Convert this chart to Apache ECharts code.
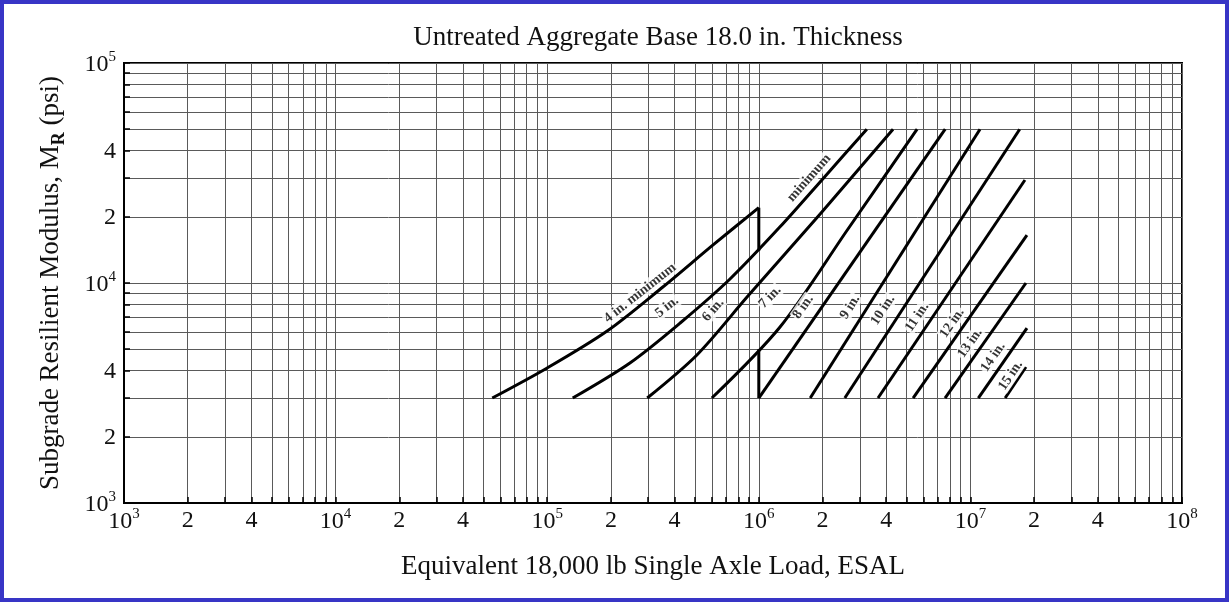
<!DOCTYPE html>
<html>
<head>
<meta charset="utf-8">
<script src="https://cdn.jsdelivr.net/npm/echarts@6/dist/echarts.min.js"></script>
<style>
  html, body { margin: 0; padding: 0; background: #fff; }
  #chart { width: 1229px; height: 602px; }
  #frame { position: absolute; left: 0; top: 0; width: 1229px; height: 602px;
           box-sizing: border-box; border: 4px solid #3835c6; pointer-events: none; }
</style>
</head>
<body>
<div id="chart"></div>
<div id="frame"></div>
<script>
// Axis label positions (ESAL and resilient modulus, psi)
const esalLabelTicks = [1e3, 2e3, 4e3, 1e4, 2e4, 4e4, 1e5, 2e5, 4e5, 1e6, 2e6, 4e6, 1e7, 2e7, 4e7, 1e8];
const mrLabelTicks = [1e3, 2e3, 4e3, 1e4, 2e4, 4e4, 1e5];

// Asphalt thickness curves: [ESAL, MR psi]
const c4in  = [[5.5e4, 3000], [1.0e5, 4110], [1.92e5, 6050], [3.52e5, 9590], [6.08e5, 14900], [1.0e6, 22000]];
const c5in  = [[1.32e5, 3000], [2.46e5, 4330], [4.25e5, 6580], [7.31e5, 10430], [1.26e6, 18000], [2.06e6, 30600], [3.24e6, 50000]];
const c6in  = [[2.97e5, 3000], [5.1e5, 4710], [8.8e5, 8630], [1.95e6, 20600], [4.31e6, 50000]];
const c7in  = [[6.0e5, 3000], [1.26e6, 6310], [2.64e6, 17600], [5.6e6, 50000]];
const c8in  = [[1.0e6, 3000], [7.6e6, 50000]];
const c9in  = [[1.75e6, 3000], [1.11e7, 50000]];
const c10in = [[2.55e6, 3000], [1.71e7, 50000]];
const c11in = [[3.66e6, 3000], [1.81e7, 29400]];
const c12in = [[5.36e6, 3000], [1.85e7, 16500]];
const c13in = [[7.59e6, 3000], [1.83e7, 10000]];
const c14in = [[1.09e7, 3000], [1.85e7, 6240]];
const c15in = [[1.46e7, 3000], [1.83e7, 4150]];

// Boundary segments at 10^6 ESAL
const bound1 = [[1.0e6, 14000], [1.0e6, 22000]];
const bound2 = [[1.0e6, 3000], [1.0e6, 5000]];

// Curve annotations: text, anchor [ESAL, MR], curve it follows
const labelTexts = ['4 in. minimum', 'minimum', '5 in.', '6 in.', '7 in.', '8 in.', '9 in.',
                    '10 in.', '11 in.', '12 in.', '13 in.', '14 in.', '15 in.'];
const labelSpots = [[2.745e5, 9006], [1.73e6, 30000], [3.68e5, 7780], [6.08e5, 7540], [1.13e6, 8630],
                    [1.62e6, 7780], [2.70e6, 7780], [3.86e6, 7540], [5.60e6, 7000], [8.19e6, 6580],
                    [9.96e6, 5330], [1.28e7, 4610], [1.55e7, 3800]];
const labelCurve = [0, 1, 1, 2, 3, 4, 5, 6, 7, 8, 9, 10, 11];

const curves = [c4in, c5in, c6in, c7in, c8in, c9in, c10in, c11in, c12in, c13in, c14in, c15in];
const bounds = [bound1, bound2];

const lg = Math.log10;
const toLog = pts => pts.map(p => [lg(p[0]), lg(p[1])]);

// Grid lines at every 1..9 multiple within each decade
function decadeLines(lo, hi) {
  const out = [];
  for (let d = lo; d < hi; d++) for (let k = 1; k <= 9; k++) out.push(d + lg(k));
  out.push(hi);
  return out;
}
const xGrid = decadeLines(3, 8);
const yGrid = decadeLines(3, 5);

const FONT = '"Liberation Serif", "DejaVu Serif", serif';
const tickRich = {
  b: { fontFamily: FONT, fontSize: 24, color: '#111', verticalAlign: 'bottom', lineHeight: 26 },
  s: { fontFamily: FONT, fontSize: 15, color: '#111', verticalAlign: 'bottom', padding: [0, 0, 12, 0] }
};
function tickFmt(v) {
  const n = Math.round(v);
  if (Math.abs(v - n) < 1e-6) return '{b|10}{s|' + n + '}';
  return '{b|' + Math.round(Math.pow(10, v - Math.floor(v))) + '}';
}

const chart = echarts.init(document.getElementById('chart'), null, { renderer: 'canvas' });

const lineSeries = curves.map(c => ({
  type: 'line', data: toLog(c), showSymbol: false, silent: true,
  smooth: c.length > 2 ? 0.3 : false,
  lineStyle: { color: '#000', width: 3 }, z: 5
})).concat(bounds.map(b => ({
  type: 'line', data: toLog(b), showSymbol: false, silent: true,
  lineStyle: { color: '#000', width: 3 }, z: 5
})));

function labelSeries(rotations) {
  return {
    type: 'scatter', silent: true, z: 10,
    symbolSize: 1, itemStyle: { color: 'rgba(0,0,0,0)' },
    data: labelSpots.map((p, i) => ({
      value: [lg(p[0]), lg(p[1])],
      name: labelTexts[i],
      label: { rotate: rotations ? rotations[i] : 0 }
    })),
    label: {
      show: true, position: 'inside', formatter: '{b}',
      fontFamily: FONT, fontSize: 14, fontWeight: 'bold', color: '#000',
      backgroundColor: '#fff', padding: [0, 1]
    }
  };
}

const option = {
  animation: false,
  backgroundColor: '#fff',
  title: {
    text: 'Untreated Aggregate Base 18.0 in. Thickness',
    left: 653, top: 19, textAlign: 'center',
    textStyle: { fontFamily: FONT, fontSize: 27, fontWeight: 'normal', color: '#111' }
  },
  grid: { left: 124, top: 63, right: 47, bottom: 99, show: true, borderColor: '#000', borderWidth: 2 },
  xAxis: {
    type: 'value', min: 3, max: 8,
    axisLine: { show: true, lineStyle: { color: '#000', width: 2 } },
    axisTick: { show: true, inside: true, length: 6, customValues: xGrid, lineStyle: { color: '#000', width: 1.5 } },
    axisLabel: { customValues: esalLabelTicks.map(lg), formatter: tickFmt, rich: tickRich, margin: 4 },
    splitLine: { show: true, lineStyle: { color: '#5a5a5a', width: 1 } },
    name: 'Equivalent 18,000 lb Single Axle Load, ESAL',
    nameLocation: 'middle', nameGap: 50,
    nameTextStyle: { fontFamily: FONT, fontSize: 27, color: '#111' }
  },
  yAxis: {
    type: 'value', min: 3, max: 5,
    axisLine: { show: true, lineStyle: { color: '#000', width: 2 } },
    axisTick: { show: true, inside: true, length: 6, customValues: yGrid, lineStyle: { color: '#000', width: 1.5 } },
    axisLabel: { customValues: mrLabelTicks.map(lg), formatter: tickFmt, rich: tickRich, margin: 8 },
    splitLine: { show: true, lineStyle: { color: '#5a5a5a', width: 1 } },
    name: '{a|Subgrade Resilient Modulus, M}{r|R}{a| (psi)}',
    nameLocation: 'middle', nameGap: 56, nameRotate: 90,
    nameTextStyle: {
      rich: {
        a: { fontFamily: FONT, fontSize: 27, color: '#111', verticalAlign: 'top', lineHeight: 30 },
        r: { fontFamily: FONT, fontSize: 18, fontWeight: 'bold', color: '#111', verticalAlign: 'top', padding: [13, 0, 0, 0] }
      }
    }
  },
  series: lineSeries.concat([labelSeries(null)])
};

chart.setOption(option);

// Orient each annotation along its curve, using the pixel direction of the local segment
function angleAt(curve, lx) {
  const pts = toLog(curve);
  let seg = 0;
  for (let i = 0; i < pts.length - 1; i++) {
    if (lx >= pts[i][0]) seg = i;
  }
  if (seg > pts.length - 2) seg = pts.length - 2;
  const a = chart.convertToPixel({ gridIndex: 0 }, pts[seg]);
  const b = chart.convertToPixel({ gridIndex: 0 }, pts[seg + 1]);
  return Math.atan2(a[1] - b[1], b[0] - a[0]) * 180 / Math.PI;
}
const rotations = labelSpots.map((p, i) => angleAt(curves[labelCurve[i]], lg(p[0])));
chart.setOption({ series: lineSeries.concat([labelSeries(rotations)]) });
</script>
</body>
</html>
